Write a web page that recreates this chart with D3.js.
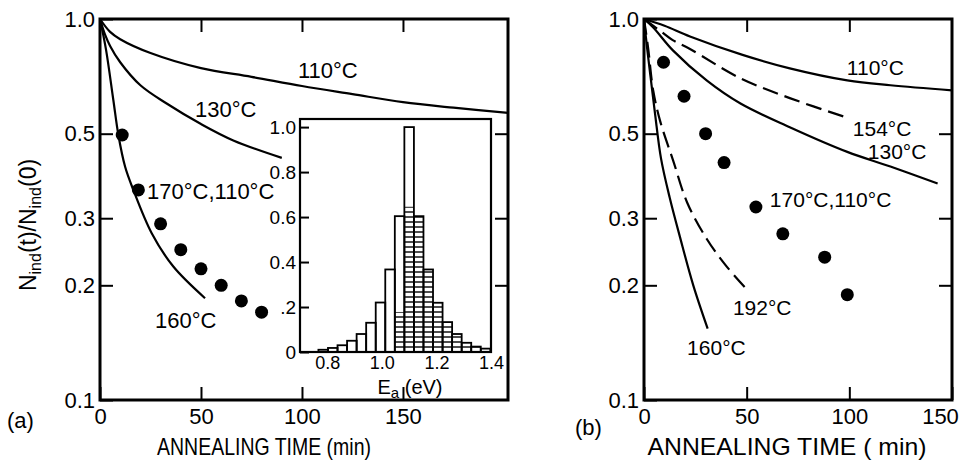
<!DOCTYPE html>
<html>
<head>
<meta charset="utf-8">
<script src="https://cdn.jsdelivr.net/npm/d3@7"></script>
<style>
  body { margin: 0; background: #fff; }
  svg { display: block; font-family: "Liberation Sans", Arial, sans-serif; }
</style>
</head>
<body>
<script>
// ---- values ----
// curves are [annealing time (min), Nind(t)/Nind(0)]

// panel (a)
const a110 = [[0, 1], [5, 0.925], [10, 0.885], [25, 0.814], [50, 0.743], [75, 0.705], [100, 0.667], [125, 0.635], [150, 0.605], [175, 0.585], [202, 0.567]];
const a130 = [[0, 1], [2.5, 0.91], [5, 0.85], [10, 0.77], [20, 0.67], [33, 0.6], [50, 0.53], [66, 0.48], [90, 0.432]];
const a160 = [[0, 1], [3, 0.83], [6.6, 0.613], [9.1, 0.496], [12.4, 0.41], [16.5, 0.356], [25.6, 0.274], [36.3, 0.224], [52, 0.185]];
const aDotTimes = [11, 19, 30, 40, 50, 60, 70, 80];
const aDotValues = [0.496, 0.356, 0.29, 0.248, 0.221, 0.2, 0.182, 0.17];

// panel (b)
const b110 = [[0, 1], [10, 0.96], [22.4, 0.9], [48, 0.805], [71, 0.742], [99, 0.69], [120, 0.67], [150, 0.65]];
const b154 = [[0, 1], [8, 0.93], [14, 0.88], [22.4, 0.834], [46.7, 0.7], [71, 0.62], [98, 0.553]];
const b130 = [[0, 1], [4.5, 0.95], [14.2, 0.826], [30.5, 0.69], [47, 0.6], [71, 0.52], [99, 0.448], [120, 0.41], [143, 0.37]];
const b160 = [[0, 1], [1.5, 0.84], [3.4, 0.69], [5.4, 0.563], [8.3, 0.43], [12.5, 0.34], [17.5, 0.268], [24, 0.2], [31, 0.154]];
const b192 = [[0, 1], [2, 0.84], [4.5, 0.648], [7.8, 0.541], [14.2, 0.425], [21, 0.33], [30.5, 0.265], [40, 0.225], [49, 0.198]];
const bDotTimes = [9.5, 19.5, 30, 39, 54.5, 67.6, 88, 99];
const bDotValues = [0.77, 0.627, 0.5, 0.42, 0.321, 0.273, 0.237, 0.189];

// inset histogram of activation energies
const binCenters = [0.785, 0.82, 0.855, 0.89, 0.925, 0.96, 0.995, 1.03, 1.065, 1.1, 1.135, 1.17, 1.205, 1.24, 1.275, 1.31, 1.345, 1.38];
const binHeights = [0.01, 0.018, 0.03, 0.05, 0.08, 0.13, 0.22, 0.367, 0.604, 1.0, 0.604, 0.367, 0.219, 0.133, 0.08, 0.041, 0.024, 0.015];
const binHatched = [0, 0, 0, 0, 0, 0, 0, 0, 0.178, 0.646, 0.604, 0.367, 0.219, 0.133, 0.08, 0.041, 0.024, 0.015];
const binWidth = 0.035;

// ticks and labels
const yTicks = [0.1, 0.2, 0.3, 0.5, 1.0];
const yTickLabels = ['0.1', '0.2', '0.3', '0.5', '1.0'];
const timeTicks = [0, 50, 100, 150];
const insetXTicks = [0.8, 1.0, 1.2, 1.4];
const insetXLabels = ['0.8', '1.0', '1.2', '1.4'];
const insetYTicks = [0, 0.2, 0.4, 0.6, 0.8, 1.0];
const insetYLabels = ['0', '.2', '0.4', '0.6', '0.8', '1.0'];
const aCurveLabels = ['110°C', '130°C', '170°C,110°C', '160°C'];
const bCurveLabels = ['110°C', '154°C', '130°C', '170°C,110°C', '192°C', '160°C'];

// ---- drawing ----
const width = 968;
const height = 460;
const font = 22;

const svg = d3.select('body')
  .append('svg')
  .attr('width', width)
  .attr('height', height);

svg.append('rect').attr('width', width).attr('height', height).attr('fill', '#fff');

const defs = svg.append('defs');
const hatch = defs.append('pattern')
  .attr('id', 'hatch')
  .attr('patternUnits', 'userSpaceOnUse')
  .attr('width', 10)
  .attr('height', 5);
hatch.append('line')
  .attr('x1', 0).attr('x2', 10).attr('y1', 2).attr('y2', 2)
  .attr('stroke', '#000').attr('stroke-width', 1.4);

const y = d3.scaleLog().domain([0.1, 1]).range([400, 19]);
const xA = d3.scaleLinear().domain([0, 202]).range([100, 508]);
const xB = d3.scaleLinear().domain([0, 150]).range([644, 952]);

function styleAxis(g, size) {
  g.select('.domain').remove();
  g.attr('font-family', null).attr('font-size', size);
  g.selectAll('line').attr('stroke', '#000').attr('stroke-width', 2);
  g.selectAll('text').attr('fill', '#000');
}

function drawFrame(x) {
  const [x0, x1] = x.range();
  const tv = timeTicks.filter(t => t <= x.domain()[1]);

  svg.append('g').attr('transform', `translate(${x0},0)`)
    .call(d3.axisLeft(y).tickValues(yTicks).tickSize(-13).tickPadding(5)
      .tickFormat((d, i) => yTickLabels[i]))
    .call(g => styleAxis(g, font));

  svg.append('g').attr('transform', `translate(${x1},0)`)
    .call(d3.axisRight(y).tickValues([0.2, 0.3, 0.5]).tickSize(-13).tickFormat(''))
    .call(g => styleAxis(g, font));

  svg.append('g').attr('class', 'time-axis').attr('transform', `translate(0,${y(0.1)})`)
    .call(d3.axisBottom(x).tickValues(tv).tickSize(-13).tickPadding(8))
    .call(g => styleAxis(g, font));

  svg.append('g').attr('transform', `translate(0,${y(1)})`)
    .call(d3.axisTop(x).tickValues(tv.filter(t => t > 0 && t < x.domain()[1])).tickSize(-13).tickFormat(''))
    .call(g => styleAxis(g, font));

  svg.append('rect')
    .attr('x', x0).attr('y', y(1))
    .attr('width', x1 - x0).attr('height', y(0.1) - y(1))
    .attr('fill', 'none').attr('stroke', '#000').attr('stroke-width', 3);
}

function drawCurve(x, pts, dashed) {
  const line = d3.line()
    .x(d => x(d[0]))
    .y(d => y(d[1]))
    .curve(d3.curveCatmullRom.alpha(0.5));
  svg.append('path')
    .datum(pts)
    .attr('d', line)
    .attr('fill', 'none')
    .attr('stroke', '#000')
    .attr('stroke-width', 2.2)
    .attr('stroke-dasharray', dashed ? '16,7' : null);
}

function drawDots(x, times, values) {
  svg.append('g').selectAll('circle')
    .data(times)
    .enter()
    .append('circle')
    .attr('cx', d => x(d))
    .attr('cy', (d, i) => y(values[i]))
    .attr('r', 6.5)
    .attr('fill', '#000');
}

function drawLabels(x, texts, anchors, size) {
  svg.append('g').selectAll('text')
    .data(texts)
    .enter()
    .append('text')
    .attr('x', (d, i) => x(anchors[i][0]))
    .attr('y', (d, i) => y(anchors[i][1]))
    .attr('font-size', size)
    .text(d => d);
}

// panel (a)
drawFrame(xA);
drawCurve(xA, a110);
drawCurve(xA, a130);
drawCurve(xA, a160);
drawLabels(xA, aCurveLabels, [[98, 0.70], [47, 0.553], [23.3, 0.337], [27.2, 0.1545]], font);

// inset histogram
const ex = d3.scaleLinear().domain([0.7, 1.4]).range([300, 491]);
const ey = d3.scaleLinear().domain([0, 1.036]).range([352, 119]);
const inset = svg.append('g');

inset.append('rect')
  .attr('x', ex(0.7)).attr('y', ey(1.036))
  .attr('width', ex(1.4) - ex(0.7)).attr('height', ey(0) - ey(1.036))
  .attr('fill', '#fff');

inset.append('g').selectAll('rect')
  .data(binCenters)
  .enter()
  .append('rect')
  .attr('x', d => ex(d - binWidth / 2))
  .attr('width', ex(binWidth) - ex(0))
  .attr('y', (d, i) => ey(binHatched[i]))
  .attr('height', (d, i) => ey(0) - ey(binHatched[i]))
  .attr('fill', 'url(#hatch)');

inset.append('g').selectAll('rect')
  .data(binCenters)
  .enter()
  .append('rect')
  .attr('x', d => ex(d - binWidth / 2))
  .attr('width', ex(binWidth) - ex(0))
  .attr('y', (d, i) => ey(binHeights[i]))
  .attr('height', (d, i) => ey(0) - ey(binHeights[i]))
  .attr('fill', 'none')
  .attr('stroke', '#000')
  .attr('stroke-width', 1.8);

inset.append('g').attr('transform', `translate(${ex(0.7)},0)`)
  .call(d3.axisLeft(ey).tickValues(insetYTicks).tickSize(-9).tickPadding(4)
    .tickFormat((d, i) => insetYLabels[i]))
  .call(g => styleAxis(g, 19));

inset.append('g').attr('transform', `translate(0,${ey(0)})`)
  .call(d3.axisBottom(ex).tickValues(insetXTicks).tickSize(0).tickPadding(4)
    .tickFormat((d, i) => insetXLabels[i]))
  .call(g => styleAxis(g, 18));

inset.append('rect')
  .attr('x', ex(0.7)).attr('y', ey(1.036))
  .attr('width', ex(1.4) - ex(0.7)).attr('height', ey(0) - ey(1.036))
  .attr('fill', 'none').attr('stroke', '#000').attr('stroke-width', 2.2);

const eaLabel = inset.append('text')
  .attr('x', 410).attr('y', 394)
  .attr('text-anchor', 'middle')
  .attr('font-size', 20);
eaLabel.append('tspan').text('E');
eaLabel.append('tspan').attr('dy', 4).attr('font-size', 15).text('a');
eaLabel.append('tspan').attr('dy', -4).text(' (eV)');

drawDots(xA, aDotTimes, aDotValues);

// panel (b)
drawFrame(xB);
drawCurve(xB, b110);
drawCurve(xB, b154, true);
drawCurve(xB, b130);
drawCurve(xB, b160);
drawCurve(xB, b192, true);
drawDots(xB, bDotTimes, bDotValues);
drawLabels(xB, bCurveLabels, [[98.8, 0.713], [101.7, 0.493], [109, 0.43], [61.3, 0.321], [43.3, 0.167], [21, 0.131]], 21);

// the 150 label of panel (b) is pulled in from the page edge
svg.selectAll('.time-axis').filter((d, i) => i === 1)
  .selectAll('.tick text')
  .filter(d => d === 150)
  .attr('dx', -12);

// axis titles and panel letters
svg.append('text')
  .attr('x', 264).attr('y', 455)
  .attr('text-anchor', 'middle')
  .attr('font-size', 24)
  .attr('textLength', 214)
  .attr('lengthAdjust', 'spacingAndGlyphs')
  .text('ANNEALING TIME (min)');

svg.append('text')
  .attr('x', 787).attr('y', 455)
  .attr('text-anchor', 'middle')
  .attr('font-size', 24)
  .attr('textLength', 279)
  .attr('lengthAdjust', 'spacingAndGlyphs')
  .text('ANNEALING TIME ( min)');

svg.append('text').attr('x', 7).attr('y', 428).attr('font-size', font).text('(a)');
svg.append('text').attr('x', 575).attr('y', 435).attr('font-size', font).text('(b)');

const yTitle = svg.append('text')
  .attr('transform', 'translate(36,225) rotate(-90)')
  .attr('text-anchor', 'middle')
  .attr('font-size', 23);
yTitle.append('tspan').text('N');
yTitle.append('tspan').attr('dy', 5).attr('font-size', 16).text('ind');
yTitle.append('tspan').attr('dy', -5).text('(t)/N');
yTitle.append('tspan').attr('dy', 5).attr('font-size', 16).text('ind');
yTitle.append('tspan').attr('dy', -5).text('(0)');
</script>
</body>
</html>
